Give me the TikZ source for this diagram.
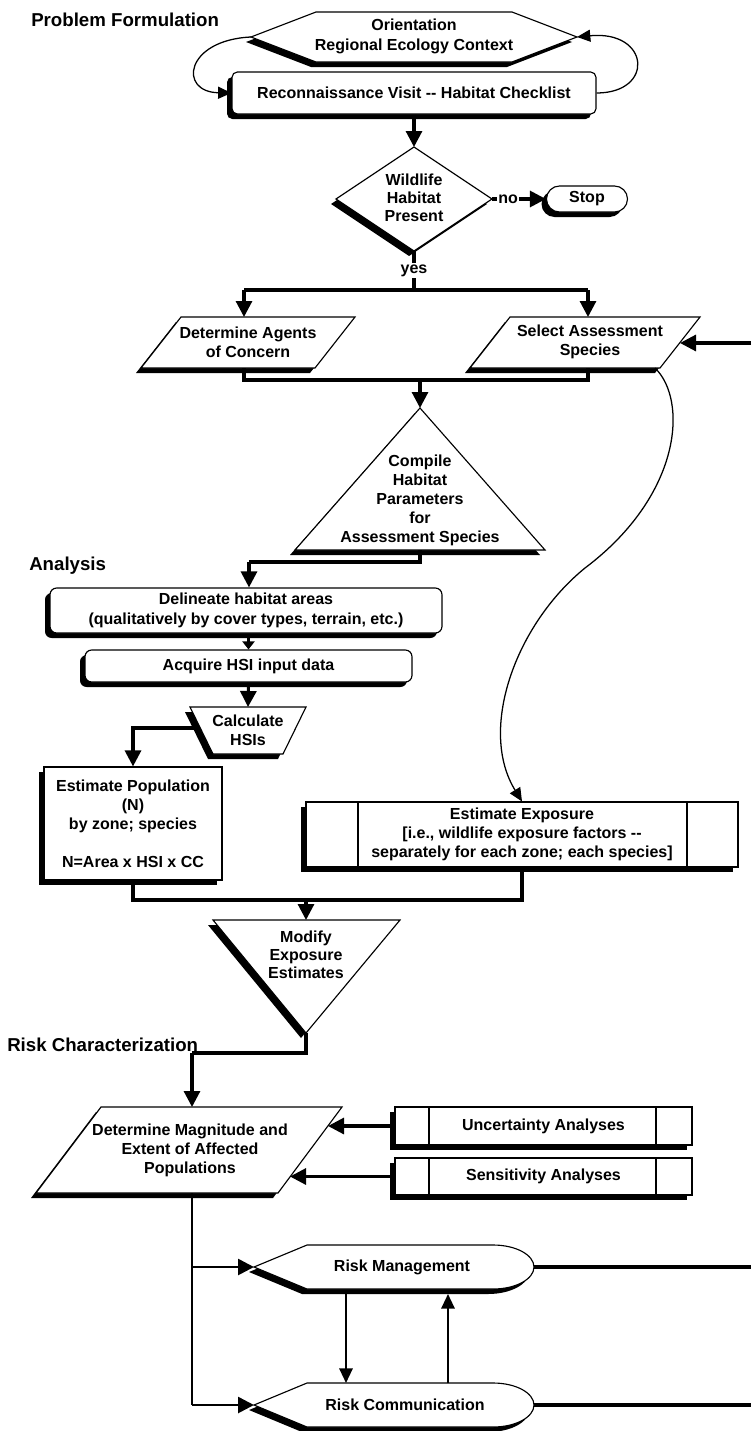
\documentclass[tikz,border=0pt]{standalone}
\usepackage{fontspec}
\setmainfont{Liberation Sans}
\usetikzlibrary{arrows.meta,shadows,calc}
\begin{document}
\begin{tikzpicture}[x=0.75pt,y=-0.75pt,
  font=\fontsize{12}{14.25}\selectfont\bfseries,
  shp/.style={draw=black, line width=0.85pt, fill=white,
    drop shadow={shadow xshift=-3.75pt,shadow yshift=-3.75pt,opacity=1,fill=black}},
  conn/.style={line width=2.3pt, -{Triangle[length=12pt,width=12pt]}},
  smallconn/.style={line width=2.3pt, -{Triangle[length=6pt,width=9pt]}},
  midconn/.style={line width=1.6pt, -{Triangle[length=11pt,width=10pt]}},
  plain/.style={line width=2.3pt},
  thinarr/.style={line width=0.95pt, -{Triangle[length=10pt,width=9pt]}},
  lbl/.style={align=center, inner sep=0pt},
  ttl/.style={font=\fontsize{14}{16}\selectfont\bfseries, anchor=west, inner sep=0pt},
  box/.style={shp, inner sep=0pt, align=center},
  onlbl/.style={fill=white, inner sep=1pt},
]
\useasboundingbox (0,0) rectangle (751,1431);

% ---------- titles
\node[ttl] (tPF) at (31,20) {Problem Formulation};
\node[ttl] (tAn) at (29,566) {Analysis};
\node[ttl] (tRC) at (7,1045) {Risk Characterization};

% ---------- Orientation hexagon
\filldraw[shp] (251,37) -- (316,12) -- (512,12) -- (577,37) -- (512,62) -- (316,62) -- cycle;
\coordinate (hexL) at (251,37);
\coordinate (hexR) at (577,37);
\node[lbl, font=\fontsize{12}{15}\selectfont\bfseries] (orient) at (414,36) {Orientation\\Regional Ecology Context};

% ---------- Reconnaissance
\node[box, rounded corners=4pt, minimum width={364*0.75pt}, minimum height={42*0.75pt}] (recon) at (414,93) {Reconnaissance Visit -{}- Habitat Checklist};

\draw[thinarr] (hexL) .. controls (185,40) and (178,92) .. (recon.west);
\draw[thinarr] (recon.east) .. controls (655,93) and (650,30) .. (hexR);

% ---------- Diamond
\filldraw[shp] (414,147) -- (492,199) -- (414,251) -- (336,199) -- cycle;
\coordinate (dT) at (414,147);
\coordinate (dR) at (492,199);
\coordinate (dB) at (414,251);
\node[lbl, font=\fontsize{12}{13.5}\selectfont\bfseries] (habitat) at (414,198) {Wildlife\\Habitat\\Present};
\draw[conn] (recon.south) -- (dT);

% ---------- Stop
\node[box, rounded corners=9.75pt, minimum width={81*0.75pt}, minimum height={26*0.75pt}] (stop) at (587,199) {Stop};
\draw[conn] (dR) -- node[onlbl, pos=0.3] (no) {no} (stop.west);

% ---------- yes branch
\coordinate (j1) at (414,290);
\coordinate (j1L) at (244,290);
\coordinate (j1R) at (588,290);
\draw[plain] (dB) -- node[onlbl, pos=0.5] (yes) {yes} (j1);
\draw[plain] (j1L) -- (j1R);

% ---------- Determine Agents
\filldraw[shp] (141,368) -- (181,317) -- (355,317) -- (315,368) -- cycle;
\node[lbl] (agents) at (248,342) {Determine Agents\\of Concern};
\coordinate (agT) at (244,317);
\coordinate (agB) at (244,368);

% ---------- Select Assessment Species
\filldraw[shp] (470,368) -- (510,317) -- (700,317) -- (660,368) -- cycle;
\node[lbl] (select) at (590,342) {Select Assessment\\Species};
\coordinate (seT) at (588,317);
\coordinate (seB) at (588,368);
\coordinate (seR) at (680,343);
\coordinate (seBR) at (655,368);
\coordinate (inR) at (751,343);

\draw[conn] (j1L) -- (agT);
\draw[conn] (j1R) -- (seT);
\draw[conn] (inR) -- (seR);

% ---------- join to triangle
\coordinate (j2) at (420,380);
\coordinate (j2L) at (244,380);
\coordinate (j2R) at (588,380);
\draw[plain] (agB) -- (j2L) -- (j2R) -- (seB);

% ---------- Compile triangle
\filldraw[shp] (420,408) -- (545,550) -- (295,550) -- cycle;
\coordinate (trT) at (420,408);
\coordinate (trB) at (420,550);
\node[lbl] (compile) at (420,500) {Compile\\Habitat\\Parameters\\for\\Assessment Species};
\draw[conn] (j2) -- (trT);

% ---------- Delineate
\node[box, rounded corners=5pt, minimum width={392*0.75pt}, minimum height={45*0.75pt}, font=\fontsize{12}{15}\selectfont\bfseries] (delin) at (246,610.5) {Delineate habitat areas\\(qualitatively by cover types, terrain, etc.)};
\coordinate (j3) at (420,562);
\coordinate (j3L) at (249,562);
\draw[plain] (trB) -- (j3) -- (j3L);
\draw[conn] (j3L) -- (j3L |- delin.north);

% ---------- Acquire
\node[box, rounded corners=5pt, minimum width={327*0.75pt}, minimum height={32*0.75pt}] (acq) at (248.5,666) {Acquire HSI input data};
\draw[smallconn] (delin.south -| acq.south) -- (acq.north);

% ---------- Calculate HSIs trapezoid
\filldraw[shp] (190,707) -- (306,707) -- (283,754) -- (213,754) -- cycle;
\coordinate (calcT) at (248,707);
\coordinate (calcL) at (200,728);
\node[lbl] (calc) at (248,730) {Calculate\\HSIs};
\draw[conn] (acq.south) -- (calcT);

% ---------- Estimate Population
\node[box, minimum width={178*0.75pt}, minimum height={113*0.75pt}] (estpop) at (133,823.5) {Estimate Population\\(N)\\by zone; species\\[14.25pt]N=Area x HSI x CC};
\coordinate (j4) at (133,728);
\draw[conn] (calcL) -- (j4) -- (estpop.north);

% ---------- Estimate Exposure
\node[box, minimum width={432*0.75pt}, minimum height={65*0.75pt}] (estexp) at (522,834.5) {Estimate Exposure\\{[}i.e., wildlife exposure factors -{}-\\separately for each zone; each species{]}};
\draw[line width=0.85pt] (358,802) -- (358,867);
\draw[line width=0.85pt] (687,802) -- (687,867);

\draw[thinarr] (seBR) .. controls (688,400) and (682,495) .. (585,568) .. controls (515,625) and (478,730) .. (estexp.north);

% ---------- join to Modify
\coordinate (j5) at (306,900);
\coordinate (j5L) at (133,900);
\coordinate (j5R) at (522,900);
\draw[plain] (estpop.south) -- (j5L) -- (j5R) -- (estexp.south);

% ---------- Modify triangle
\filldraw[shp] (213,920) -- (400,920) -- (306,1033) -- cycle;
\coordinate (modT) at (306,920);
\coordinate (modB) at (306,1033);
\node[lbl, font=\fontsize{12}{13.5}\selectfont\bfseries] (modify) at (306,955) {Modify\\Exposure\\Estimates};
\draw[conn] (j5) -- (modT);

% ---------- Determine Magnitude
\filldraw[shp] (36,1193) -- (101,1107) -- (342,1107) -- (278,1193) -- cycle;
\coordinate (dmT) at (192,1107);
\coordinate (dmB) at (192,1193);
\coordinate (dmU) at (328,1126);
\coordinate (dmS) at (290,1176.5);
\node[lbl] (magn) at (190,1150) {Determine Magnitude and\\Extent of Affected\\Populations};
\coordinate (j6) at (306,1053);
\coordinate (j6L) at (192,1053);
\draw[plain] (modB) -- (j6) -- (j6L);
\draw[conn] (j6L) -- (dmT);

% ---------- Uncertainty / Sensitivity
\node[box, minimum width={297*0.75pt}, minimum height={38*0.75pt}] (uncert) at (543.5,1126) {Uncertainty Analyses};
\draw[line width=0.85pt] (429,1107) -- (429,1145);
\draw[line width=0.85pt] (656,1107) -- (656,1145);
\node[box, minimum width={297*0.75pt}, minimum height={37*0.75pt}] (sens) at (543.5,1176.5) {Sensitivity Analyses};
\draw[line width=0.85pt] (429,1158) -- (429,1195);
\draw[line width=0.85pt] (656,1158) -- (656,1195);
\draw[conn] (uncert.west) -- (dmU);
\draw[conn] (sens.west) -- (dmS);

% ---------- Risk Management / Communication
\filldraw[shp] (254,1267) -- (307,1245) -- (493,1245) .. controls (516,1245) and (534,1255) .. (534,1267) .. controls (534,1279) and (516,1289) .. (493,1289) -- (307,1289) -- cycle;
\node[lbl] (rm) at (402,1267) {Risk Management};
\filldraw[shp] (254,1405) -- (307,1383) -- (493,1383) .. controls (516,1383) and (534,1393) .. (534,1405) .. controls (534,1417) and (516,1427) .. (493,1427) -- (307,1427) -- cycle;
\node[lbl] (rc) at (405,1405) {Risk Communication};
\coordinate (rmL) at (254,1267);
\coordinate (rmR) at (534,1267);
\coordinate (rcL) at (254,1405);
\coordinate (rcR) at (534,1405);
\coordinate (k1) at (192,1267);
\coordinate (k2) at (192,1405);
\coordinate (outA) at (751,1267);
\coordinate (outB) at (751,1405);
\draw[plain, line width=2pt] (dmB) -- (k2);
\draw[conn, line width=2pt] (k1) -- (rmL);
\draw[conn, line width=2pt] (k2) -- (rcL);
\draw[plain] (rmR) -- (outA);
\draw[plain] (rcR) -- (outB);
\coordinate (rmB1) at (346,1294);
\coordinate (rcT1) at (346,1383);
\coordinate (rcT2) at (448,1383);
\coordinate (rmB2) at (448,1294);
\draw[midconn] (rmB1) -- (rcT1);
\draw[midconn] (rcT2) -- (rmB2);
\end{tikzpicture}
\end{document}
